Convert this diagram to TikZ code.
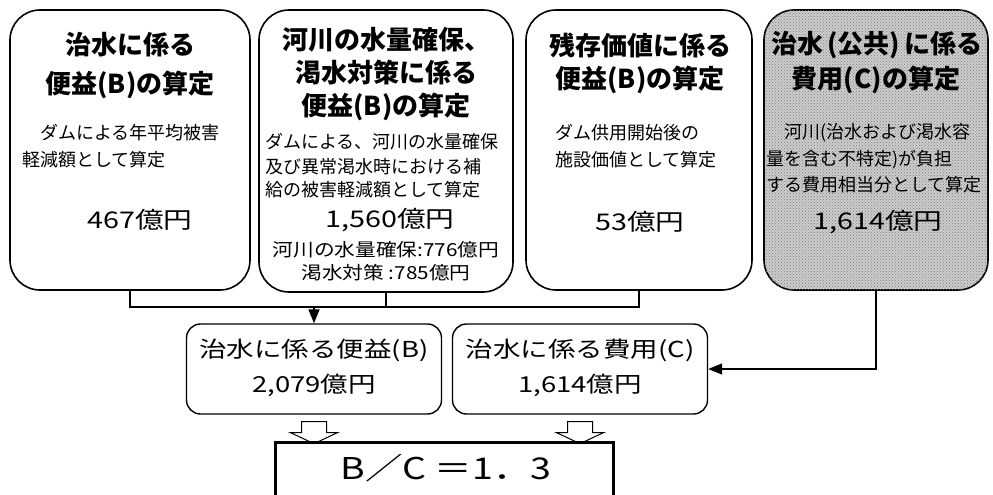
\documentclass[tikz,border=0pt]{standalone}
\usepackage{fontspec}
\setmainfont{Noto Sans CJK JP}
\newfontfamily\widecjk[FakeStretch=1.25]{Noto Sans CJK JP}
\newfontfamily\subcjk[FakeStretch=1.15]{Noto Sans CJK JP}
\usetikzlibrary{arrows.meta,positioning,shapes.arrows,patterns,calc}

\tikzset{
  topbox/.style={draw,line width=1.6pt,rounded corners=30pt,inner sep=0pt},
  sumbox/.style={draw,line width=1.4pt,rounded corners=14pt,minimum width=255pt,minimum height=90pt,inner sep=0pt},
  ttl/.style={font=\fontsize{26}{28}\selectfont\bfseries,inner sep=0pt},
  desc/.style={font=\fontsize{18}{20}\selectfont,inner sep=0pt,anchor=west},
  amt/.style={font=\widecjk\fontsize{23}{25}\selectfont,inner sep=0pt},
  sumtxt/.style={font=\widecjk\fontsize{22}{24}\selectfont,inner sep=0pt},
  sub/.style={font=\subcjk\fontsize{18}{20}\selectfont,inner sep=0pt},
  link/.style={line width=1.4pt},
  feed/.style={link,-{Triangle[length=14pt,width=11pt]}},
  hollow/.style={single arrow,draw,line width=1pt,rotate=-90,minimum height=22pt,
    minimum width=47pt,single arrow head extend=11pt,single arrow tip angle=130,
    inner xsep=0pt,inner ysep=12pt}
}

\begin{document}
\begin{tikzpicture}[x=1pt,y=-1pt]
\useasboundingbox (0,0) rectangle (993,495);

% benefit boxes and cost box
\node[topbox,minimum width=240pt,minimum height=280pt] (flood) at (130,150) {};
\node[topbox,minimum width=254pt,minimum height=282pt] (water) at (386,151) {};
\node[topbox,minimum width=226pt,minimum height=280pt] (residual) at (639,150) {};
\node[topbox,minimum width=224pt,minimum height=280pt,fill=black!20,
  postaction={pattern=crosshatch dots,pattern color=black!50}] (cost) at (876,150) {};

% flood control
\node[ttl] (floodT1) at (130,45) {治水に係る};
\node[ttl] (floodT2) at (130,85) {便益(B)の算定};
\node[desc] (floodD1) at (22,133) {　ダムによる年平均被害};
\node[desc] (floodD2) at (22,160) {軽減額として算定};
\node[amt] (floodA) at (140,220) {467億円};

% river water / drought
\node[ttl] (waterT1) at (386,40) {河川の水量確保、};
\node[ttl] (waterT2) at (386,73) {渇水対策に係る};
\node[ttl] (waterT3) at (386,107) {便益(B)の算定};
\node[desc] (waterD1) at (265,142) {ダムによる、河川の水量確保};
\node[desc] (waterD2) at (265,167) {及び異常渇水時における補};
\node[desc] (waterD3) at (265,190) {給の被害軽減額として算定};
\node[amt] (waterA) at (390,220) {1,560億円};
\node[sub] (waterS1) at (386,250) {河川の水量確保:776億円};
\node[sub] (waterS2) at (386,273) {渇水対策 :785億円};

% residual value
\node[ttl] (resT1) at (640,45) {残存価値に係る};
\node[ttl] (resT2) at (640,80) {便益(B)の算定};
\node[desc] (resD1) at (555,133) {ダム供用開始後の};
\node[desc] (resD2) at (555,160) {施設価値として算定};
\node[amt] (resA) at (640,222) {53億円};

% public cost
\node[ttl] (costT1) at (877,45) {治水\,(公共)\,に係る};
\node[ttl] (costT2) at (876,80) {費用(C)の算定};
\node[desc] (costD1) at (766,133) {　河川(治水および渇水容};
\node[desc] (costD2) at (766,160) {量を含む不特定)が負担};
\node[desc] (costD3) at (766,185) {する費用相当分として算定};
\node[amt] (costA) at (878,222) {1,614億円};

% totals
\node[sumbox] (bsum) at (314,369) {};
\node[sumtxt] (bsumT) at (314,350) {治水に係る便益(B)};
\node[sumtxt] (bsumA) at (314,385) {2,079億円};
\node[sumbox] (csum) at (580,369) {};
\node[sumtxt] (csumT) at (580,350) {治水に係る費用(C)};
\node[sumtxt] (csumA) at (580,385) {1,614億円};

% ratio
\node[draw,line width=3pt,minimum width=338pt,minimum height=80pt] (ratio) at (444,482) {};
\node[font=\widecjk\fontsize{30}{32}\selectfont,inner sep=0pt] (ratioT) at (446,468) {B／C ＝1．3};

% connectors
\coordinate (bus) at (0,307);
\draw[link] (flood.south) -- (flood.south |- bus) -| (residual.south);
\draw[link] (water.south) -- (water.south |- bus);
\draw[feed] (bsum.north |- bus) -- (bsum.north);
\draw[feed] (cost.south) |- (csum.east);
\node[hollow] (bdown) at ($(bsum.south)+(0,15)$) {};
\node[hollow] (cdown) at ($(csum.south)+(0,15)$) {};
\end{tikzpicture}
\end{document}
